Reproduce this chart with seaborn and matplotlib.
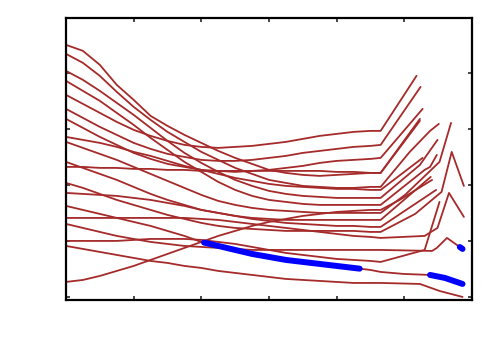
import numpy as np
import pandas as pd
import matplotlib
matplotlib.use("Agg")
import matplotlib.pyplot as plt
import seaborn as sns

# x grid shared by the left/middle part of every curve
x_grid = [0, 0.25, 0.5, 0.75, 1, 1.25, 1.5, 1.75, 2, 2.25, 2.5, 2.75,
          3, 3.25, 3.5, 3.75, 4, 4.25, 4.5, 4.65]

# height of each curve on x_grid, then the tail after the kink (x, h)
curve_h = [
    [252, 246, 232, 212, 197, 181, 171, 162, 154, 146, 139, 133, 127, 124, 122, 121, 122, 123, 124, 124],
    [243, 234, 221, 205, 190, 177, 165, 155, 145, 137, 129, 123, 117, 114, 111, 110, 109, 109, 110, 110],
    [226, 217, 206, 194, 182, 169, 156, 144, 134, 125, 117, 111, 106, 103, 101, 100, 99, 99, 99, 99],
    [216, 206, 196, 184, 172, 159, 147, 135, 125, 115, 107, 101, 97, 95, 93, 92, 92, 92, 92, 92],
    [202, 193, 184, 175, 167, 161, 156, 152, 150, 149, 150, 151, 153, 155, 158, 161, 163, 165, 166, 166],
    [188, 179, 170, 162, 154, 148, 143, 140, 137, 136, 136, 137, 139, 141, 144, 146, 148, 150, 151, 152],
    [178, 169, 160, 152, 144, 138, 133, 130, 127, 126, 125, 126, 127, 129, 131, 134, 136, 137, 138, 139],
    [160, 157, 154, 150, 145, 141, 136, 131, 127, 123, 119, 116, 113, 111, 110, 109, 108, 108, 107, 107],
    [155, 149, 143, 137, 130, 123, 116, 109, 102, 96, 92, 89, 87, 86, 85, 84, 84, 84, 84, 84],
    [135, 129, 123, 117, 110, 103, 97, 92, 87, 84, 81, 79, 78, 77, 77, 77, 77, 77, 77, 77],
    [130, 130, 129, 129, 128, 128, 127, 127, 126, 126, 126, 126, 126, 126, 126, 126, 125, 125, 124, 124],
    [114, 109, 103, 97, 92, 87, 82, 78, 74, 71, 69, 68, 67, 66, 66, 66, 66, 66, 65, 65],
    [104, 103, 102, 101, 99, 97, 94, 91, 87, 84, 81, 78, 76, 74, 73, 72, 71, 71, 70, 70],
    [91, 87, 83, 79, 75, 71, 66, 61, 55, 51, 47, 43, 40, 37, 35, 33, 31, 29, 27, 25],
    [79, 79, 79, 79, 79, 79, 79, 79, 78, 77, 75, 73, 71, 69, 67, 65, 63, 61, 60, 59],
    [73, 69, 65, 61, 58, 55, 53, 51, 50, 49, 48, 47, 47, 47, 47, 47, 47, 47, 47, 47],
    [56, 56, 56, 56, 57, 58, 58, 58, 57, 55, 53, 50, 47, 44, 42, 40, 38, 37, 36, 35],
    [51, 48, 45, 42, 39, 36, 34, 31, 29, 26, 24, 22, 20, 18, 17, 16, 15, 14, 14, 14],
    [15, 17, 21, 26, 31, 37, 43, 49, 55, 61, 66, 71, 75, 78, 81, 83, 85, 86, 87, 87],
]

tail_x = [
    [5.23],
    [5.08, 5.38, 5.51],
    [5.23, 5.49],
    [5.30, 5.38, 5.48],
    [5.18],
    [5.24],
    [5.27],
    [5.27],
    [5.01, 5.52, 5.69],
    [5.39],
    [5.23],
    [5.16, 5.55, 5.70, 5.88],
    [5.47],
    [4.99, 5.38, 5.60, 5.86],
    [5.30, 5.49, 5.66, 5.88],
    [5.41, 5.48, 5.63, 5.86],
    [5.30, 5.52],
    [5.23, 5.52, 5.86],
    [4.93, 5.41],
]
tail_h = [
    [178],
    [145, 166, 173],
    [132, 157],
    [127, 130, 142],
    [221],
    [210],
    [188],
    [139],
    [102, 135, 174],
    [120],
    [176],
    [83, 105, 145, 111],
    [107],
    [23, 22, 19, 13],
    [61, 69, 104, 80],
    [46, 49, 59, 48],
    [47, 95],
    [13, 6, 0],
    [97, 117],
]

# highlighted pieces: (curve index, x start, x end)
blue_curve = [13, 13, 15]
blue_start = [2.04, 5.38, 5.82]
blue_end = [4.34, 5.86, 5.86]

rows = []
for i in range(len(curve_h)):
    xs = x_grid + tail_x[i]
    hs = curve_h[i] + tail_h[i]
    for x, h in zip(xs, hs):
        rows.append({"curve": i, "x": x, "h": h})
df = pd.DataFrame(rows)

blue_rows = []
for k in range(len(blue_curve)):
    c = df[df["curve"] == blue_curve[k]]
    inner = c[(c["x"] > blue_start[k]) & (c["x"] < blue_end[k])]["x"].tolist()
    xs = [blue_start[k]] + inner + [blue_end[k]]
    hs = np.interp(xs, c["x"], c["h"])
    for x, h in zip(xs, hs):
        blue_rows.append({"piece": k, "x": x, "h": h})
df_blue = pd.DataFrame(blue_rows)

sns.set_style("ticks")
fig = plt.figure(figsize=(5, 3.5), dpi=100)
ax = fig.add_axes([0.132, 0.143, 0.812, 0.806])

sns.lineplot(data=df, x="x", y="h", units="curve", estimator=None,
             color="#a52a2a", linewidth=1.3, ax=ax)
sns.lineplot(data=df_blue, x="x", y="h", units="piece", estimator=None,
             color="#0000ff", linewidth=4.3, ax=ax,
             solid_capstyle="round")

ax.set_xlim(0, 6)
ax.set_ylim(-3, 279)
ax.set_xticks(range(0, 7))
ax.set_yticks([0, 56, 112, 168, 224])
ax.tick_params(direction="in", length=3, width=1.2, top=True, right=True,
               labelbottom=False, labelleft=False)
ax.set_xlabel("")
ax.set_ylabel("")
for side in ["left", "right", "top", "bottom"]:
    ax.spines[side].set_visible(True)
    ax.spines[side].set_linewidth(1.6)
    ax.spines[side].set_color("black")

fig.savefig("out.png", dpi=100)
